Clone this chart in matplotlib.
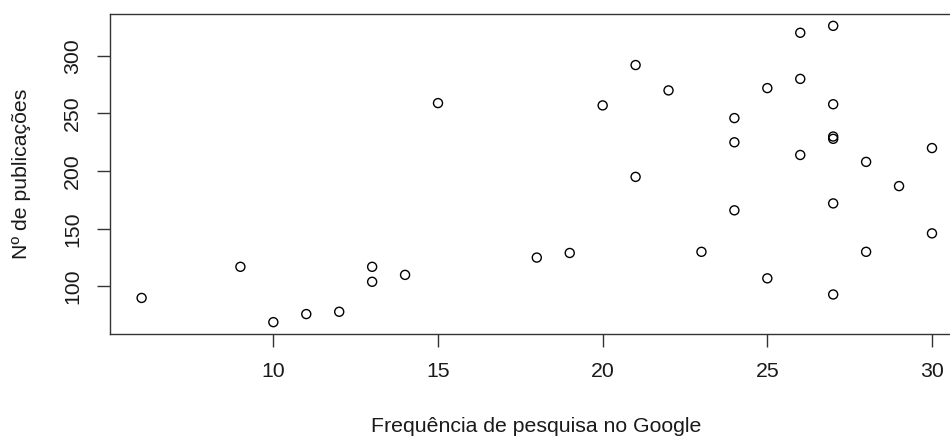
import matplotlib
matplotlib.use("Agg")
import matplotlib.pyplot as plt

# Data
freq_google = [6, 9, 10, 11, 12, 13, 13, 14, 15, 18, 19, 20, 21, 21, 22, 23,
               24, 24, 24, 25, 25, 26, 26, 26, 27, 27, 27, 27, 27, 27, 28, 28,
               29, 30, 30]
n_publicacoes = [90, 117, 69, 76, 78, 117, 104, 110, 259, 125, 129, 257, 292, 195, 270, 130,
                 246, 225, 166, 272, 107, 320, 280, 214, 326, 258, 230, 228, 172, 93, 208, 130,
                 187, 220, 146]
x_ticks = [10, 15, 20, 25, 30]
y_ticks = [100, 150, 200, 250, 300]
x_label = "Frequência de pesquisa no Google"
y_label = "Nº de publicações"

plt.rcParams['font.family'] = ['Liberation Sans', 'DejaVu Sans']

W, H = 950, 437
fig = plt.figure(figsize=(W / 100, H / 100), dpi=100)
left, right, top, bottom = 110, 963.6, 14, 334
ax = fig.add_axes([left / W, 1 - bottom / H, (right - left) / W, (bottom - top) / H])

ax.scatter(freq_google, n_publicacoes, s=6.5 ** 2, facecolors='none',
           edgecolors='black', linewidths=1.0, zorder=3)

xmin, xmax = min(freq_google), max(freq_google)
ymin, ymax = min(n_publicacoes), max(n_publicacoes)
xp = (xmax - xmin) * 0.04
yp = (ymax - ymin) * 0.04
ax.set_xlim(xmin - xp, xmax + xp)
ax.set_ylim(ymin - yp, ymax + yp)

ax.set_xticks(x_ticks)
ax.set_yticks(y_ticks)
ax.set_xticklabels([str(v) for v in x_ticks])
ax.set_yticklabels([str(v) for v in y_ticks], rotation=90, va='center')

for sp in ax.spines.values():
    sp.set_color('#333333')
    sp.set_linewidth(1.0)

fs = 15.3
ax.tick_params(axis='both', direction='out', length=9.5, width=1.0, color='#333333',
               labelsize=fs, labelcolor='#1a1a1a')
ax.tick_params(axis='x', pad=10.5)
ax.tick_params(axis='y', pad=10.5)

fig.text(536.5 / W, 1 - 427 / H, x_label, ha='center', va='center',
         fontsize=fs, color='#1a1a1a')
fig.text(22 / W, 1 - 174 / H, y_label, ha='center', va='center',
         rotation=90, fontsize=fs, color='#1a1a1a')

fig.savefig("out.png", dpi=100)
